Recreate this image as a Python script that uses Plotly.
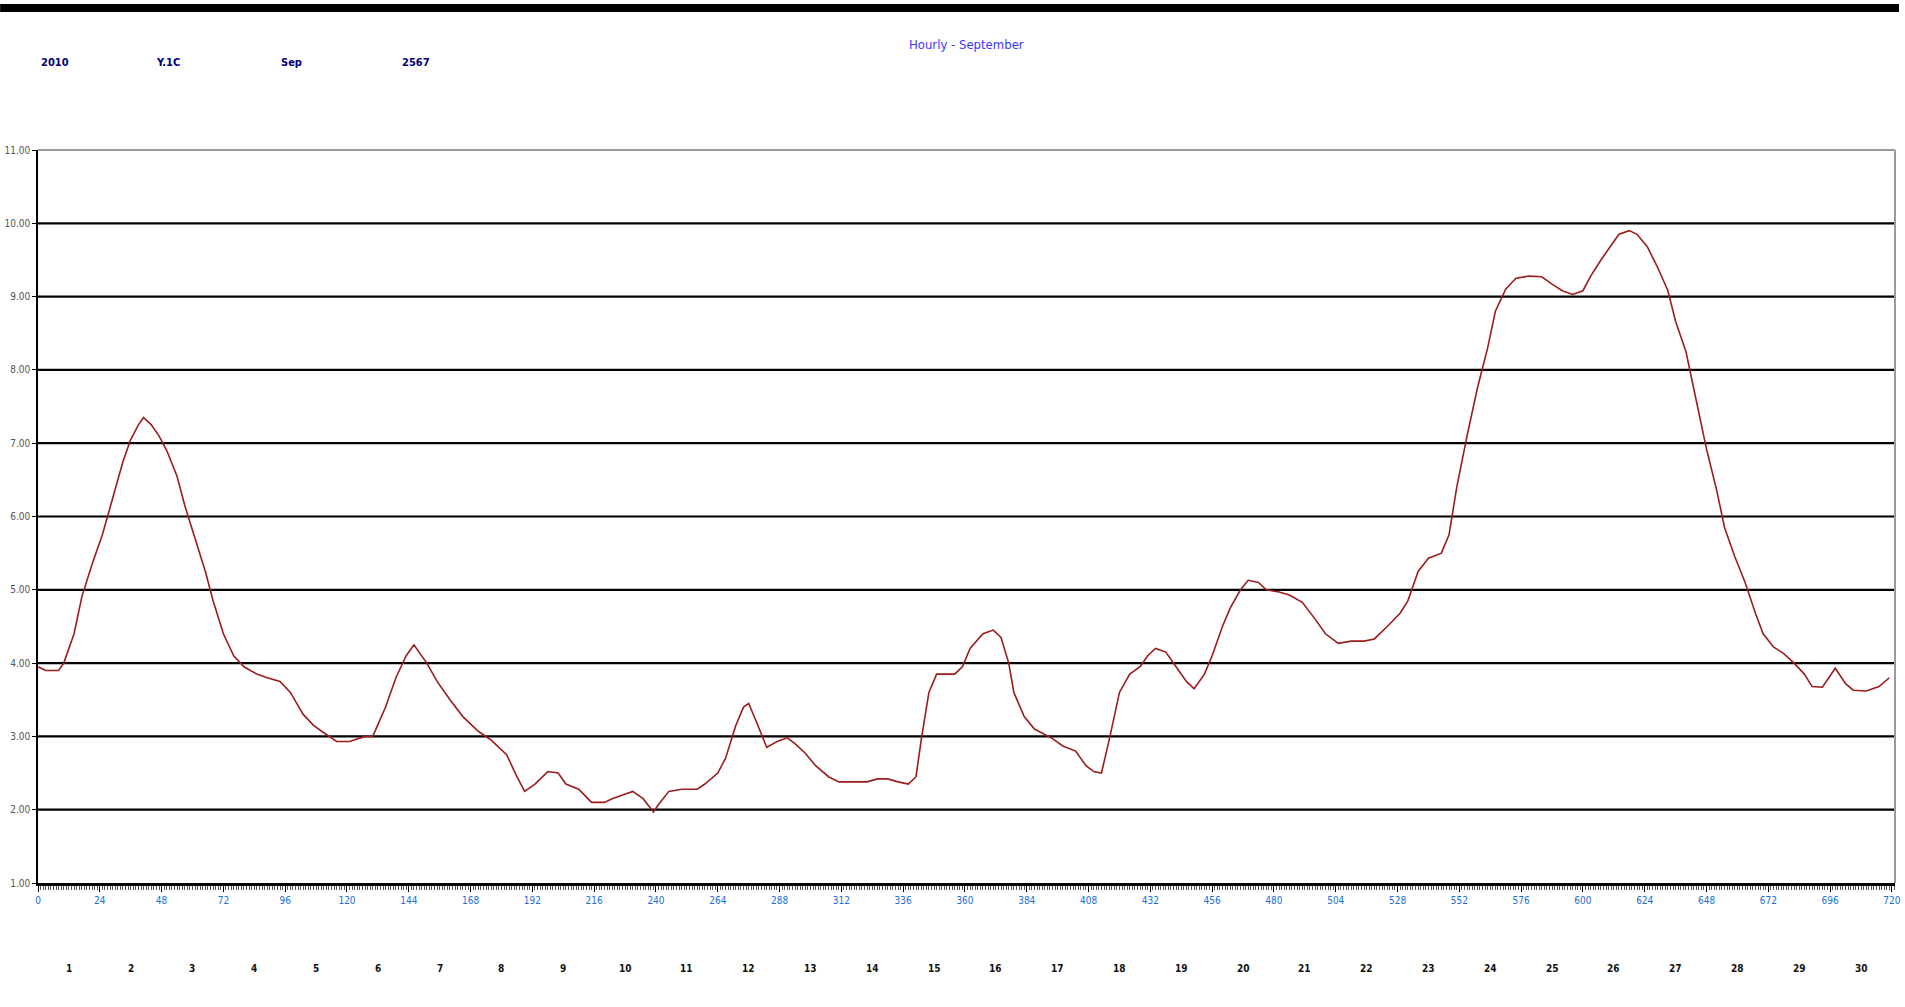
import plotly.graph_objects as go

# ---- data ----
hours = [0, 3, 8, 10, 14, 17, 21, 25, 29, 33, 36, 39, 41, 44, 47, 50, 54, 57, 61, 65, 68, 72, 76, 80,
         85, 89, 94, 98, 103, 107, 111, 116, 121, 127, 130, 135, 139, 143, 146, 151, 155, 160, 165,
         171, 176, 182, 186, 189, 193, 198, 202, 205, 210, 215, 220, 223, 227, 231, 235, 239, 241,
         245, 250, 256, 259, 264, 267, 271, 274, 276, 279, 283, 287, 291, 294, 298, 302, 307, 311,
         316, 322, 326, 330, 334, 338, 341, 343, 346, 349, 352, 356, 359, 362, 367, 371, 374, 377,
         379, 383, 387, 391, 394, 398, 403, 407, 410, 413, 416, 420, 424, 428, 431, 434, 438, 442,
         446, 449, 453, 456, 460, 463, 467, 470, 474, 477, 482, 486, 491, 496, 500, 505, 510, 515,
         519, 524, 529, 532, 536, 540, 545, 548, 551, 555, 559, 563, 566, 570, 574, 579, 584, 588,
         592, 596, 600, 603, 607, 611, 614, 618, 621, 625, 629, 633, 636, 640, 644, 648, 652, 655,
         659, 663, 667, 670, 674, 678, 682, 686, 689, 693, 698, 702, 705, 710, 715, 719]
values = [3.95, 3.9, 3.9, 4.0, 4.4, 4.9, 5.35, 5.75, 6.25, 6.75, 7.05, 7.25, 7.35, 7.25, 7.1, 6.9,
          6.55, 6.15, 5.7, 5.25, 4.85, 4.4, 4.1, 3.95, 3.85, 3.8, 3.75, 3.6, 3.3, 3.15, 3.05, 2.93,
          2.93, 3.0, 3.0, 3.4, 3.8, 4.1, 4.25, 4.0, 3.75, 3.5, 3.27, 3.07, 2.95, 2.75, 2.45, 2.25,
          2.35, 2.52, 2.5, 2.35, 2.28, 2.1, 2.1, 2.15, 2.2, 2.25, 2.15, 1.97, 2.07, 2.25, 2.28,
          2.28, 2.35, 2.5, 2.7, 3.15, 3.4, 3.45, 3.2, 2.85, 2.93, 2.98, 2.9, 2.77, 2.6, 2.45, 2.38,
          2.38, 2.38, 2.42, 2.42, 2.38, 2.35, 2.45, 2.95, 3.6, 3.85, 3.85, 3.85, 3.95, 4.2, 4.4,
          4.45, 4.35, 4.0, 3.6, 3.27, 3.1, 3.02, 2.97, 2.87, 2.8, 2.6, 2.52, 2.5, 2.95, 3.6, 3.85,
          3.95, 4.1, 4.2, 4.15, 3.95, 3.75, 3.65, 3.85, 4.1, 4.5, 4.75, 5.0, 5.13, 5.1, 5.0, 4.97,
          4.93, 4.83, 4.6, 4.4, 4.27, 4.3, 4.3, 4.33, 4.5, 4.68, 4.85, 5.25, 5.43, 5.5, 5.75, 6.4,
          7.1, 7.75, 8.3, 8.8, 9.1, 9.25, 9.28, 9.27, 9.17, 9.08, 9.03, 9.08, 9.28, 9.5, 9.7, 9.85,
          9.9, 9.85, 9.68, 9.4, 9.08, 8.66, 8.25, 7.6, 6.92, 6.35, 5.85, 5.45, 5.1, 4.68, 4.4,
          4.22, 4.13, 4.0, 3.85, 3.68, 3.67, 3.93, 3.72, 3.63, 3.62, 3.68, 3.8]

x_ticks = list(range(0, 721, 24))
y_ticks = [1, 2, 3, 4, 5, 6, 7, 8, 9, 10, 11]
days = [str(d) for d in range(1, 31)]
header_texts = ["2010", "Y.1C", "Sep", "2567"]
title_text = "Hourly - September"

# ---- layout geometry ----
W, H = 1905, 1007
ML, MR, MT, MB = 38, 4, 150, 124
PW, PH = W - ML - MR, H - MT - MB


def px_x(px):
    return (px - ML) / PW


def px_y(py):
    return (H - MB - py) / PH


FONT = "Liberation Sans Narrow, Arial Narrow, DejaVu Sans Condensed, Liberation Sans, Arial, sans-serif"

fig = go.Figure()
fig.add_trace(go.Scatter(x=hours, y=values, mode="lines",
                         line=dict(color="#9b1c1c", width=1.6), hoverinfo="skip",
                         showlegend=False))

shapes = []
# horizontal grid lines (interior ticks)
for v in y_ticks[1:-1]:
    shapes.append(dict(type="line", xref="paper", yref="y", x0=0, x1=1, y0=v, y1=v,
                       line=dict(color="#000000", width=2.2), layer="below"))
# gray top/right border
shapes.append(dict(type="line", xref="paper", yref="paper", x0=0, x1=1, y0=1, y1=1,
                   line=dict(color="#9a9a9a", width=2)))
shapes.append(dict(type="line", xref="paper", yref="paper", x0=1, x1=1, y0=0, y1=1,
                   line=dict(color="#9a9a9a", width=2)))
# black bar at very top
shapes.append(dict(type="rect", xref="paper", yref="paper", x0=px_x(0), x1=px_x(W),
                   y0=px_y(12), y1=px_y(4), fillcolor="#000000", line=dict(width=0)))

annotations = []
header_px = [55, 168, 292, 417]
for t, xp in zip(header_texts, header_px):
    annotations.append(dict(text="<b>" + t + "</b>", xref="paper", yref="paper", x=px_x(xp),
                            y=px_y(63), showarrow=False, xanchor="center", yanchor="middle",
                            font=dict(family=FONT, size=11, color="#00007a")))
annotations.append(dict(text=title_text, xref="paper", yref="paper", x=px_x(970), y=px_y(45),
                        showarrow=False, xanchor="center", yanchor="middle",
                        font=dict(family=FONT, size=13, color="#3a3aff")))
for i, d in enumerate(days):
    annotations.append(dict(text="<b>" + d + "</b>", xref="x", yref="paper", x=24 * i + 12,
                            y=px_y(968), showarrow=False, xanchor="center", yanchor="middle",
                            font=dict(family=FONT, size=10, color="#111111")))

fig.update_layout(
    width=W, height=H,
    margin=dict(l=ML, r=MR, t=MT, b=MB, pad=0),
    paper_bgcolor="white", plot_bgcolor="white",
    shapes=shapes, annotations=annotations,
    xaxis=dict(range=[0, 721.2], tickvals=x_ticks, ticktext=[str(v) for v in x_ticks],
               showgrid=False, zeroline=False, showline=True, linecolor="#000000", linewidth=2.5,
               ticks="outside", ticklen=6, tickwidth=1, tickcolor="#000000",
               ticklabeloverflow="allow",
               minor=dict(dtick=1, tick0=0, ticks="outside", ticklen=4, tickwidth=1,
                          tickcolor="#555555", showgrid=False),
               tickfont=dict(family=FONT, size=10, color="#1a6fd6")),
    yaxis=dict(range=[1, 11], tickvals=y_ticks, tickformat=".2f",
               showgrid=False, zeroline=False, showline=True, linecolor="#000000", linewidth=1.5,
               ticks="outside", ticklen=4, tickwidth=1, tickcolor="#000000",
               tickfont=dict(family=FONT, size=10, color="#555555")),
)

fig.write_html("out.html", config={"displayModeBar": False},
               post_script="document.body.style.margin='0';document.body.style.overflow='hidden';")
